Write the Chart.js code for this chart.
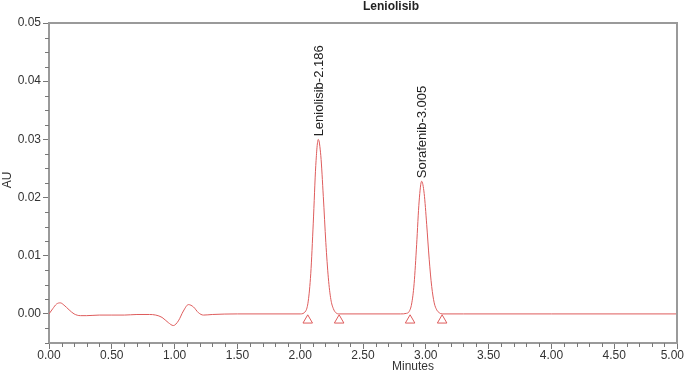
<!DOCTYPE html>
<html>
<head>
<meta charset="utf-8">
<script src="https://cdn.jsdelivr.net/npm/chart.js@4"></script>
<style>
  html, body { margin: 0; padding: 0; background: #fff; }
  #wrap { width: 685px; height: 373px; }
</style>
</head>
<body>
<div id="wrap"><canvas id="chrom" width="685" height="373"></canvas></div>
<script>
// ===== CHROMATOGRAM DATA =====
const timeMin = [0, 0.03, 0.06, 0.09, 0.12, 0.16, 0.20, 0.25, 0.30, 0.40, 0.50, 0.60, 0.70, 0.80, 0.85,
  0.90, 0.95, 0.99, 1.03, 1.07, 1.11, 1.15, 1.19, 1.23, 1.30, 1.50, 2.00,
  2.044, 2.064, 2.084, 2.104, 2.124, 2.144, 2.164, 2.184, 2.204, 2.224, 2.244, 2.264, 2.284, 2.31,
  2.50, 2.80, 2.847, 2.867, 2.887, 2.907, 2.927, 2.947, 2.967, 2.987, 3.007, 3.027, 3.047, 3.067,
  3.087, 3.107, 3.13, 3.30, 4.00, 5.00];
const absAU = [0, 0.0009, 0.0017, 0.0019, 0.0015, 0.0007, 0.0000, -0.0003, -0.0003, -0.0002, -0.0002, -0.0002, -0.0001, -0.0001, -0.0002,
  -0.0006, -0.0015, -0.0020, -0.0012, 0.0005, 0.0016, 0.0012, 0.0002, -0.0002, -0.0001, 0, 0,
  0.0005, 0.0022, 0.0069, 0.0156, 0.0255, 0.0300, 0.0272, 0.0202, 0.0123, 0.0062, 0.0025, 0.0009, 0.0002, 0,
  0, 0, 0.0001, 0.0004, 0.0017, 0.0052, 0.0119, 0.0194, 0.0228, 0.0207, 0.0154, 0.0094, 0.0047, 0.0019,
  0.0007, 0.0002, 0, 0, 0, 0];

// peak labels
const peakNames = ['Leniolisib-2.186', 'Sorafenib-3.005'];
const peakTimes = [2.144, 2.967];
const peakHeights = [0.0300, 0.0228];

// integration start/end markers (triangles)
const markerTimes = [2.06, 2.31, 2.875, 3.13];
const markerAU = [-0.0011, -0.0011, -0.0011, -0.0011];

// axis ticks
const xTickVals = [0, 0.5, 1, 1.5, 2, 2.5, 3, 3.5, 4, 4.5, 5];
const yTickVals = [0, 0.01, 0.02, 0.03, 0.04, 0.05];

const TRACE = 'rgb(222,92,92)';
const FRAME = '#9a9a9a';
const FONT = 'Liberation Sans, Arial, sans-serif';

// frame, minor ticks, x labels, peak labels, axis titles
const decorations = {
  id: 'decorations',
  afterDatasetsDraw(chart) {
    const { ctx, chartArea: a, scales: { x, y } } = chart;
    ctx.save();
    // top + right frame
    ctx.strokeStyle = FRAME;
    ctx.lineWidth = 2;
    ctx.beginPath();
    ctx.moveTo(a.left, a.top); ctx.lineTo(a.right, a.top); ctx.lineTo(a.right, a.bottom);
    ctx.stroke();

    // minor ticks
    ctx.lineWidth = 1;
    ctx.strokeStyle = '#777';
    ctx.beginPath();
    for (let i = 0; i <= 50; i++) {
      if (i % 5 === 0) continue;
      const px = Math.round(x.getPixelForValue(i / 10)) + 0.5;
      ctx.moveTo(px, a.bottom); ctx.lineTo(px, a.bottom + 4);
    }
    for (let i = -2; i <= 20; i++) {
      if (i % 4 === 0) continue;
      const py = Math.round(y.getPixelForValue(i * 0.0025)) + 0.5;
      ctx.moveTo(a.left - 4, py); ctx.lineTo(a.left, py);
    }
    ctx.stroke();

    // x tick labels (last one kept inside the canvas)
    ctx.fillStyle = '#333';
    ctx.font = '12px ' + FONT;
    ctx.textAlign = 'center';
    ctx.textBaseline = 'middle';
    xTickVals.forEach(v => {
      const txt = v.toFixed(2);
      const w = ctx.measureText(txt).width;
      let px = x.getPixelForValue(v);
      px = Math.min(px, chart.width - w / 2 - 1);
      ctx.fillText(txt, px, a.bottom + 13);
    });

    // peak labels, rotated
    ctx.fillStyle = '#222';
    ctx.font = '13px ' + FONT;
    ctx.textAlign = 'left';
    peakNames.forEach((name, i) => {
      const px = x.getPixelForValue(peakTimes[i]);
      const py = y.getPixelForValue(peakHeights[i]);
      ctx.save();
      ctx.translate(px + 1, py - 3);
      ctx.rotate(-Math.PI / 2);
      ctx.fillText(name, 0, 0);
      ctx.restore();
    });

    // title and axis titles
    ctx.fillStyle = '#222';
    ctx.font = 'bold 12px ' + FONT;
    ctx.textAlign = 'center';
    ctx.fillText('Leniolisib', 391, 7);
    ctx.font = '12px ' + FONT;
    ctx.fillStyle = '#333';
    ctx.fillText('Minutes', 413, 367);
    ctx.save();
    ctx.translate(8, 180);
    ctx.rotate(-Math.PI / 2);
    ctx.fillText('AU', 0, 0);
    ctx.restore();
    ctx.restore();
  }
};

new Chart(document.getElementById('chrom'), {
  data: {
    datasets: [
      {
        type: 'line',
        data: timeMin.map((t, i) => ({ x: t, y: absAU[i] })),
        borderColor: TRACE,
        borderWidth: 1,
        pointRadius: 0,
        cubicInterpolationMode: 'monotone',
        fill: false
      },
      {
        type: 'scatter',
        data: markerTimes.map((t, i) => ({ x: t, y: markerAU[i] })),
        pointStyle: 'triangle',
        pointRadius: 5.5,
        borderColor: TRACE,
        borderWidth: 1,
        backgroundColor: 'rgba(255,255,255,0)'
      }
    ]
  },
  options: {
    responsive: false,
    devicePixelRatio: 1,
    animation: false,
    layout: { padding: { top: 23, right: 8, left: 0, bottom: 0 } },
    plugins: { legend: { display: false }, title: { display: false }, tooltip: { enabled: false } },
    scales: {
      x: {
        type: 'linear', min: 0, max: 5,
        afterBuildTicks: s => { s.ticks = xTickVals.map(v => ({ value: v })); },
        afterFit: s => { s.height = 30; s.paddingLeft = 0; s.paddingRight = 0; },
        ticks: { display: false },
        grid: { drawOnChartArea: false, tickLength: 6, tickColor: '#777' },
        border: { color: FRAME, width: 2 }
      },
      y: {
        type: 'linear', min: -0.005, max: 0.05,
        afterBuildTicks: s => { s.ticks = yTickVals.map(v => ({ value: v })); },
        afterFit: s => { s.width = 49; s.paddingTop = 0; s.paddingBottom = 0; },
        ticks: { callback: v => v.toFixed(2), color: '#333', font: { family: FONT, size: 12 }, padding: 2 },
        grid: { drawOnChartArea: false, tickLength: 6, tickColor: '#777' },
        border: { color: FRAME, width: 2 }
      }
    }
  },
  plugins: [decorations]
});
</script>
</body>
</html>
